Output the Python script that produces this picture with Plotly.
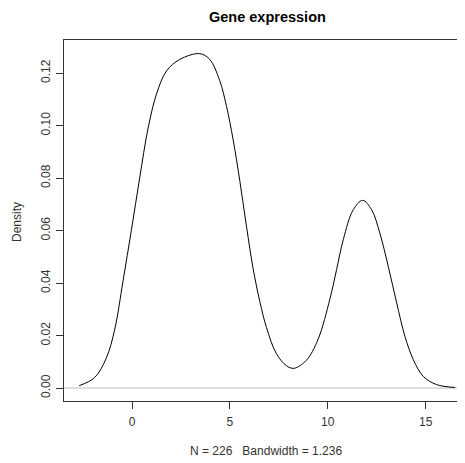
import plotly.graph_objects as go

# Density estimate
dens_x = [-2.70, -1.91, -1.31, -0.88, -0.46, -0.03, 0.39, 0.82, 1.25, 1.76, 2.44, 3.46,
          3.97, 4.48, 4.83, 5.16, 5.51, 5.85, 6.19, 6.53, 6.87, 7.38, 7.89, 8.27, 8.90,
          9.50, 10.11, 10.45, 10.79, 11.30, 11.78, 12.24, 12.66, 13.09, 13.52, 13.94,
          14.37, 14.88, 15.56, 16.50]
dens_y = [0.0009, 0.0040, 0.0115, 0.0225, 0.0408, 0.0603, 0.0800, 0.0990, 0.1120, 0.1208,
          0.1252, 0.1274, 0.1252, 0.1171, 0.1072, 0.0948, 0.0787, 0.0614, 0.0453, 0.0329,
          0.0230, 0.0130, 0.0085, 0.0075, 0.0105, 0.0185, 0.0340, 0.0451, 0.0565, 0.0679,
          0.0715, 0.0679, 0.0590, 0.0463, 0.0324, 0.0197, 0.0108, 0.0044, 0.0013, 0.0002]

x_ticks = [0, 5, 10, 15]
y_ticks = [0.00, 0.02, 0.04, 0.06, 0.08, 0.10, 0.12]
y_tick_labels = ["0.00", "0.02", "0.04", "0.06", "0.08", "0.10", "0.12"]

title_text = "Gene expression"
x_label = "N = 226   Bandwidth = 1.236"
y_label = "Density"

FONT = "Liberation Sans, Arial, Helvetica, sans-serif"
OFF = 8  # page body margin offset
W, H = 465 - OFF, 463 - OFF
PL, PT, PB = 64 - OFF, 40 - OFF, 401 - OFF  # plot area edges in figure px
PW, PH = W - PL, PB - PT

fig = go.Figure()
fig.add_trace(go.Scatter(x=dens_x, y=dens_y, mode="lines",
                         line=dict(color="black", width=1, shape="spline", smoothing=1.0),
                         hoverinfo="skip", showlegend=False))

fig.add_shape(type="line", xref="paper", yref="y", x0=0, x1=1, y0=0, y1=0,
              line=dict(color="#BEBEBE", width=1), layer="below")

fig.add_annotation(text="<b>" + title_text + "</b>", xref="paper", yref="paper",
                   x=(267 - 64) / PW, y=1 + (PT - 8.5) / PH, xanchor="center", yanchor="middle",
                   showarrow=False, font=dict(size=14.5, color="black"))

fig.update_layout(
    width=W, height=H,
    margin=dict(l=PL, r=0, t=PT, b=H - PB, pad=0),
    paper_bgcolor="white", plot_bgcolor="white",
    font=dict(family=FONT, size=12, color="black"),
    showlegend=False,
)

fig.update_xaxes(range=[-3.476, 17.01], showgrid=False, zeroline=False,
                 showline=True, linecolor="#333333", linewidth=1, mirror=True,
                 ticks="outside", ticklen=7, tickcolor="#333333", tickwidth=1,
                 tickvals=x_ticks, ticktext=[str(v) for v in x_ticks],
                 tickfont=dict(size=12, color="#333333"), ticklabelstandoff=3)
fig.update_yaxes(range=[-0.00495, 0.1326], showgrid=False, zeroline=False,
                 showline=True, linecolor="#333333", linewidth=1, mirror=False,
                 ticks="outside", ticklen=7, tickcolor="#333333", tickwidth=1,
                 tickvals=y_ticks, ticktext=y_tick_labels, tickangle=-90,
                 tickfont=dict(size=12, color="#333333"), ticklabelstandoff=1)

fig.add_annotation(text=x_label, xref="paper", yref="paper",
                   x=(266 - 64) / PW, y=-(451 - 401) / PH, xanchor="center", yanchor="middle",
                   showarrow=False, font=dict(size=12, color="#333333"))
fig.add_annotation(text=y_label, xref="paper", yref="paper",
                   x=-(64 - 17) / PW, y=(401 - 222) / PH, xanchor="center", yanchor="middle",
                   textangle=-90, showarrow=False, font=dict(size=12, color="#333333"))

fig.write_html("out.html")
